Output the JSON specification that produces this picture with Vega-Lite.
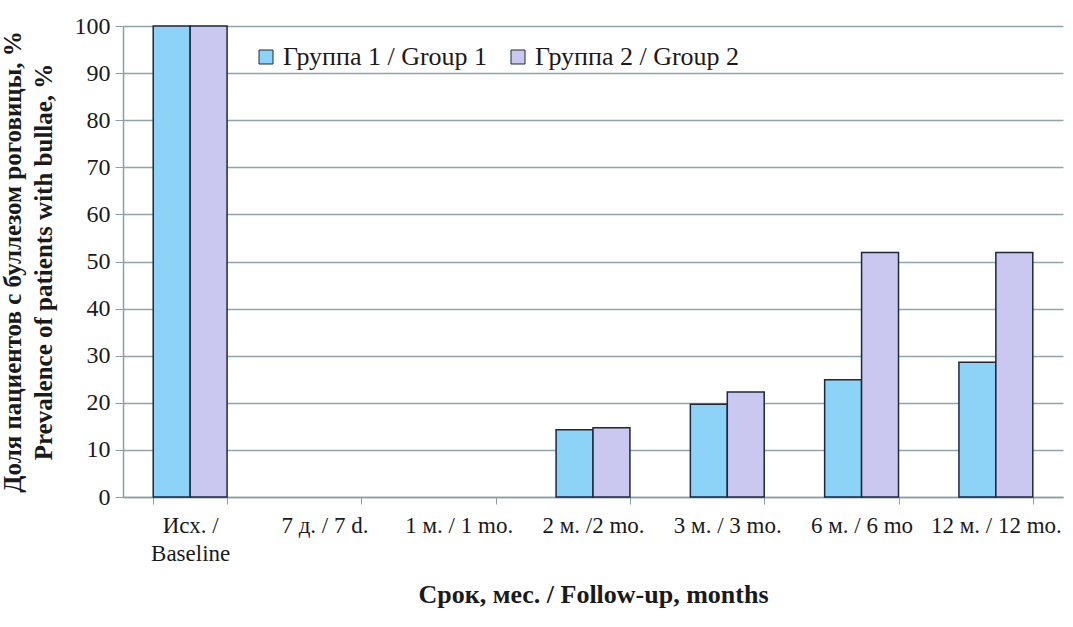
{
  "$schema": "https://vega.github.io/schema/vega-lite/v6.json",
  "width": 1073,
  "height": 627,
  "autosize": {"type": "fit", "contains": "padding"},
  "padding": {"left": 0, "top": 14, "right": 10, "bottom": 20},
  "background": "white",
  "config": {
    "font": "Liberation Serif",
    "view": {"stroke": null},
    "axis": {"labelFont": "Liberation Serif", "titleFont": "Liberation Serif", "labelColor": "#1a1a1a", "titleColor": "#1a1a1a"},
    "legend": {"labelFont": "Liberation Serif"}
  },
  "data": {
    "values": [
      {"period": "Исх. / Baseline", "group": "Группа 1 / Group 1", "value": 100},
      {"period": "Исх. / Baseline", "group": "Группа 2 / Group 2", "value": 100},
      {"period": "2 м. /2 mo.", "group": "Группа 1 / Group 1", "value": 14.3},
      {"period": "2 м. /2 mo.", "group": "Группа 2 / Group 2", "value": 14.7},
      {"period": "3 м. / 3 mo.", "group": "Группа 1 / Group 1", "value": 19.7},
      {"period": "3 м. / 3 mo.", "group": "Группа 2 / Group 2", "value": 22.3},
      {"period": "6 м. / 6 mo", "group": "Группа 1 / Group 1", "value": 24.9},
      {"period": "6 м. / 6 mo", "group": "Группа 2 / Group 2", "value": 51.9},
      {"period": "12 м. / 12 mo.", "group": "Группа 1 / Group 1", "value": 28.6},
      {"period": "12 м. / 12 mo.", "group": "Группа 2 / Group 2", "value": 51.9}
    ]
  },
  "mark": {"type": "bar", "stroke": "#1c2840", "strokeWidth": 1.5},
  "encoding": {
    "x": {
      "field": "period",
      "type": "nominal",
      "sort": null,
      "scale": {
        "domain": ["Исх. / Baseline", "7 д. / 7 d.", "1 м. / 1 mo.", "2 м. /2 mo.", "3 м. / 3 mo.", "6 м. / 6 mo", "12 м. / 12 mo."],
        "paddingInner": 0.45,
        "paddingOuter": 0.225
      },
      "axis": {
        "title": "Срок, мес. / Follow-up, months",
        "titleFontSize": 26,
        "titleFontWeight": "bold",
        "titlePadding": 16,
        "labelAngle": 0,
        "labelFontSize": 23,
        "labelPadding": 10,
        "labelLimit": 0,
        "labelExpr": "datum.value == 'Исх. / Baseline' ? ['Исх. /', 'Baseline'] : datum.label",
        "labelLineHeight": 28,
        "tickBand": "extent",
        "tickSize": 7,
        "tickColor": "#8a9fa4",
        "domainColor": "#8a9fa4",
        "domainWidth": 1.5,
        "grid": false
      }
    },
    "xOffset": {"field": "group", "type": "nominal"},
    "y": {
      "field": "value",
      "type": "quantitative",
      "scale": {"domain": [0, 100]},
      "axis": {
        "title": ["Доля пациентов с буллезом роговицы, %", "Prevalence of patients with bullae, %"],
        "titleFontSize": 25,
        "titleFontWeight": "bold",
        "titleLineHeight": 31,
        "titlePadding": 18,
        "titleLimit": 0,
        "values": [0, 10, 20, 30, 40, 50, 60, 70, 80, 90, 100],
        "labelFontSize": 24,
        "labelPadding": 5,
        "tickSize": 8,
        "tickColor": "#8a9fa4",
        "domainColor": "#8a9fa4",
        "domainWidth": 1.5,
        "grid": true,
        "gridColor": "#8fa5a9",
        "gridWidth": 1.5
      }
    },
    "color": {
      "field": "group",
      "type": "nominal",
      "scale": {"domain": ["Группа 1 / Group 1", "Группа 2 / Group 2"], "range": ["#8dd2f7", "#cac8f1"]},
      "legend": {
        "title": null,
        "orient": "none",
        "legendX": 130,
        "legendY": 18,
        "direction": "horizontal",
        "symbolType": "square",
        "symbolSize": 196,
        "symbolStrokeColor": "#1c2840",
        "symbolStrokeWidth": 1,
        "labelFontSize": 26,
        "labelLimit": 0,
        "labelFont": "Liberation Serif",
        "labelColor": "#1a1a1a",
        "columnPadding": 17,
        "labelOffset": 4
      }
    }
  }
}
